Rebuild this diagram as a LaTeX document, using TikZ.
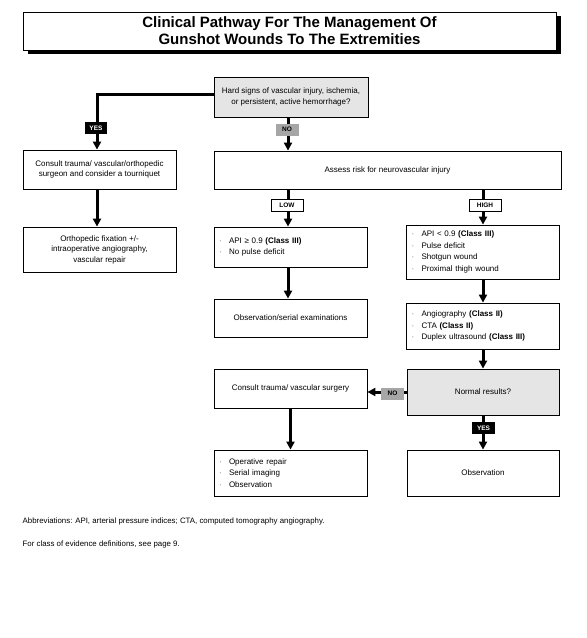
\documentclass[tikz,border=0pt]{standalone}
\usepackage{fontspec}
\setmainfont{Liberation Sans}
\usetikzlibrary{arrows.meta,shadows}
\newcommand{\bul}{\makebox[10pt][l]{\textcolor{black!60}{·}}}

\begin{document}
\begin{tikzpicture}[x=1pt,y=-1pt,
  box/.style={draw=black, line width=0.8pt, fill=white, inner sep=2pt, align=center, font=\fontsize{8}{10.5}\selectfont},
  quest/.style={box, fill=black!10},
  listbox/.style={draw=black, line width=0.8pt, fill=white, inner xsep=5pt, inner ysep=2pt, align=left, text width=143pt, font=\fontsize{8}{11.5}\selectfont},
  conn/.style={line width=3pt, -{Triangle[length=8pt,width=8pt]}},
  lbl/.style={inner sep=0pt, minimum height=12pt, font=\fontsize{6.5}{7}\selectfont\bfseries},
  yeslbl/.style={lbl, fill=black, text=white, minimum width=22pt},
  nolbl/.style={lbl, fill=black!35, text=black, minimum width=23pt},
  risklbl/.style={lbl, draw=black, line width=0.8pt, fill=white, minimum width=32pt}
]
\useasboundingbox (0,0) rectangle (587,638);
% \draw [help lines, step=50] (0,0) grid (587,638);
%% title
\node[draw=black, line width=0.8pt, fill=white, minimum width=533pt, minimum height=38pt,
  drop shadow={shadow xshift=4.5pt, shadow yshift=-4pt, fill=black, opacity=1},
  align=center, font=\fontsize{15}{17}\selectfont\bfseries] (title) at (289.5,31)
  {Clinical Pathway For The Management Of\\Gunshot Wounds To The Extremities};

%% columns
\coordinate (leftx) at (97,0);
\coordinate (midx) at (288,0);

%% boxes
\node[quest, minimum width=154pt, minimum height=40pt] (hard) at (291,97)
  {Hard signs of vascular injury, ischemia,\\ or persistent, active hemorrhage?};
\node[box, minimum width=153pt, minimum height=39pt] (consult) at (99.5,169.5)
  {Consult trauma/ vascular/orthopedic\\ surgeon and consider a tourniquet};
\node[box, minimum width=153pt, minimum height=45pt] (ortho) at (99.5,249.5)
  {Orthopedic fixation +/-\\intraoperative angiography,\\vascular repair};
\node[box, minimum width=347pt, minimum height=38pt] (assess) at (387.5,170)
  {Assess risk for neurovascular injury};
\node[listbox, minimum height=40pt] (lowrisk) at (290.5,247)
  {\bul API ≥ 0.9 \textbf{(Class III)}\\\bul No pulse deficit};
\node[listbox, minimum height=54pt] (highrisk) at (483,252)
  {\bul API < 0.9 \textbf{(Class III)}\\\bul Pulse deficit\\\bul Shotgun wound\\\bul Proximal thigh wound};
\node[box, minimum width=153pt, minimum height=38pt] (serial) at (290.5,318)
  {Observation/serial examinations};
\node[listbox, minimum height=46pt] (imaging) at (483,326)
  {\bul Angiography \textbf{(Class II)}\\\bul CTA \textbf{(Class II)}\\\bul Duplex ultrasound \textbf{(Class III)}};
\node[box, minimum width=153pt, minimum height=39pt] (vascular) at (290.5,388.5)
  {Consult trauma/ vascular surgery};
\node[quest, minimum width=152pt, minimum height=46pt] (normal) at (483,392)
  {Normal results?};
\node[listbox, minimum height=46pt] (repair) at (290.5,473)
  {\bul Operative repair\\\bul Serial imaging\\\bul Observation};
\node[box, minimum width=152pt, minimum height=46pt] (observe) at (483,473)
  {Observation};

%% arrows
\draw[conn] ([yshift=3pt]hard.west) -| (consult.north -| leftx);
\draw[conn] (consult.south -| leftx) -- (ortho.north -| leftx);
\draw[conn] (hard.south -| midx) -- (assess.north -| midx);
\draw[conn] (assess.south -| midx) -- (lowrisk.north -| midx);
\draw[conn] (assess.south -| highrisk.north) -- (highrisk.north);
\draw[conn] (lowrisk.south -| midx) -- (serial.north -| midx);
\draw[conn] (highrisk.south) -- (imaging.south |- imaging.north);
\draw[conn] (imaging.south) -- (normal.north);
\draw[conn] (normal.west) -- (normal.west -| vascular.east);
\draw[conn] (normal.south) -- (observe.north);
\draw[conn] (vascular.south) -- (repair.north);

%% labels
\node[yeslbl] (yes1) at (96,128) {YES};
\node[nolbl] (no1) at (287,129.5) {NO};
\node[risklbl] (low) at (287,205.5) {LOW};
\node[risklbl] (high) at (485,205.5) {HIGH};
\node[nolbl] (no2) at (392.5,393.5) {NO};
\node[yeslbl, minimum width=23pt] (yes2) at (483.5,428) {YES};

%% notes
\node[anchor=west, inner sep=0pt, font=\fontsize{7.85}{9}\selectfont] (abbr) at (22.5,521)
  {Abbreviations: API, arterial pressure indices; CTA, computed tomography angiography.};
\node[anchor=west, inner sep=0pt, font=\fontsize{7.85}{9}\selectfont] (evid) at (22.5,544)
  {For class of evidence definitions, see page 9.};
\end{tikzpicture}
\end{document}
